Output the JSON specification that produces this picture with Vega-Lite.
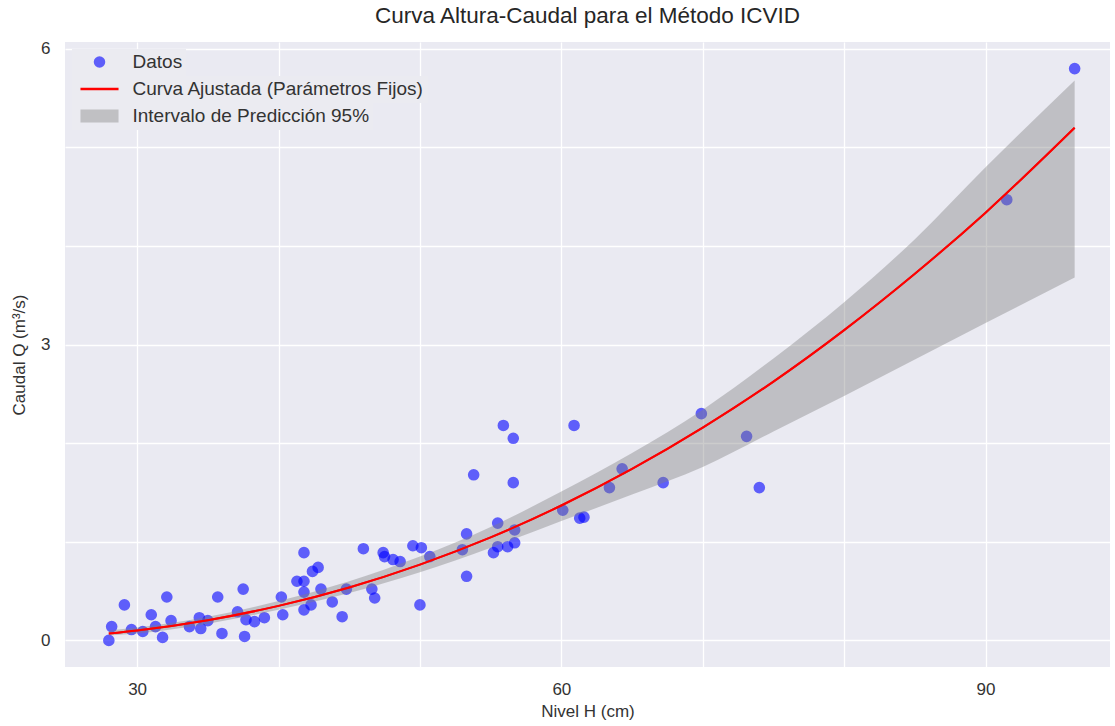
{
  "$schema": "https://vega.github.io/schema/vega-lite/v6.json",
  "width": 1045,
  "height": 625,
  "autosize": {"type": "none"},
  "padding": {"left": 65, "top": 42, "right": 5, "bottom": 59},
  "background": "white",
  "title": {
    "text": "Curva Altura-Caudal para el Método ICVID",
    "font": "Liberation Sans",
    "fontSize": 22.5,
    "fontWeight": "normal",
    "color": "#262626",
    "anchor": "middle",
    "offset": 12
  },
  "datasets": {
    "pts": [
      {"H": 28.0, "Q": 0.00}, {"H": 28.2, "Q": 0.14}, {"H": 29.1, "Q": 0.36}, {"H": 29.6, "Q": 0.11},
      {"H": 30.4, "Q": 0.09}, {"H": 31.0, "Q": 0.26}, {"H": 31.3, "Q": 0.14}, {"H": 31.8, "Q": 0.03},
      {"H": 32.1, "Q": 0.44}, {"H": 32.4, "Q": 0.20}, {"H": 33.7, "Q": 0.14}, {"H": 34.4, "Q": 0.23},
      {"H": 34.5, "Q": 0.12}, {"H": 35.0, "Q": 0.20}, {"H": 35.7, "Q": 0.44}, {"H": 36.0, "Q": 0.07},
      {"H": 37.1, "Q": 0.29}, {"H": 37.5, "Q": 0.52}, {"H": 37.6, "Q": 0.04}, {"H": 37.7, "Q": 0.21},
      {"H": 38.3, "Q": 0.19}, {"H": 39.0, "Q": 0.23}, {"H": 40.2, "Q": 0.44}, {"H": 40.3, "Q": 0.26},
      {"H": 41.3, "Q": 0.60}, {"H": 41.8, "Q": 0.89}, {"H": 41.8, "Q": 0.60}, {"H": 41.8, "Q": 0.31},
      {"H": 41.8, "Q": 0.49}, {"H": 42.3, "Q": 0.36}, {"H": 42.4, "Q": 0.70}, {"H": 42.8, "Q": 0.74},
      {"H": 43.0, "Q": 0.52}, {"H": 43.8, "Q": 0.39}, {"H": 44.5, "Q": 0.24}, {"H": 44.8, "Q": 0.52},
      {"H": 46.0, "Q": 0.93}, {"H": 46.6, "Q": 0.52}, {"H": 46.8, "Q": 0.43}, {"H": 47.4, "Q": 0.89},
      {"H": 47.5, "Q": 0.85}, {"H": 48.1, "Q": 0.82}, {"H": 48.6, "Q": 0.80}, {"H": 49.5, "Q": 0.96},
      {"H": 50.0, "Q": 0.36}, {"H": 50.1, "Q": 0.94}, {"H": 50.7, "Q": 0.85}, {"H": 53.0, "Q": 0.92},
      {"H": 53.3, "Q": 1.08}, {"H": 53.3, "Q": 0.65}, {"H": 53.8, "Q": 1.68}, {"H": 55.2, "Q": 0.89},
      {"H": 55.5, "Q": 1.19}, {"H": 55.5, "Q": 0.95}, {"H": 55.9, "Q": 2.18}, {"H": 56.2, "Q": 0.95},
      {"H": 56.6, "Q": 2.05}, {"H": 56.6, "Q": 1.60}, {"H": 56.7, "Q": 1.12}, {"H": 56.7, "Q": 0.99},
      {"H": 60.1, "Q": 1.32}, {"H": 60.9, "Q": 2.18}, {"H": 61.3, "Q": 1.24}, {"H": 61.6, "Q": 1.25},
      {"H": 63.4, "Q": 1.55}, {"H": 64.3, "Q": 1.74}, {"H": 67.2, "Q": 1.60}, {"H": 69.9, "Q": 2.30},
      {"H": 73.1, "Q": 2.07}, {"H": 74.0, "Q": 1.55}, {"H": 91.5, "Q": 4.47}, {"H": 96.3, "Q": 5.80}
    ],
    "curve": [
      {"H": 28, "Q": 0.070, "lo": 0.05, "hi": 0.10},
      {"H": 30, "Q": 0.101, "lo": 0.07, "hi": 0.13},
      {"H": 35, "Q": 0.205, "lo": 0.17, "hi": 0.24},
      {"H": 40, "Q": 0.350, "lo": 0.31, "hi": 0.40},
      {"H": 45, "Q": 0.537, "lo": 0.48, "hi": 0.60},
      {"H": 50, "Q": 0.769, "lo": 0.69, "hi": 0.85},
      {"H": 55, "Q": 1.045, "lo": 0.94, "hi": 1.15},
      {"H": 60, "Q": 1.368, "lo": 1.21, "hi": 1.51},
      {"H": 65, "Q": 1.739, "lo": 1.48, "hi": 1.90},
      {"H": 70, "Q": 2.158, "lo": 1.76, "hi": 2.34},
      {"H": 75, "Q": 2.625, "lo": 2.12, "hi": 2.86},
      {"H": 80, "Q": 3.147, "lo": 2.48, "hi": 3.43},
      {"H": 85, "Q": 3.719, "lo": 2.85, "hi": 4.07},
      {"H": 90, "Q": 4.339, "lo": 3.22, "hi": 4.80},
      {"H": 96.3, "Q": 5.200, "lo": 3.68, "hi": 5.68}
    ]
  },
  "config": {
    "view": {"fill": "#EAEAF2", "stroke": null},
    "font": "Liberation Sans",
    "axis": {
      "domain": false,
      "ticks": false,
      "tickSize": 0,
      "gridColor": "#FFFFFF",
      "gridWidth": 1.3,
      "labelFont": "Liberation Sans",
      "labelFontSize": 17,
      "labelColor": "#333333",
      "titleFont": "Liberation Sans",
      "titleFontSize": 17,
      "titleFontWeight": "normal",
      "titleColor": "#333333"
    },
    "legend": {
      "labelFont": "Liberation Sans",
      "labelFontSize": 19,
      "labelColor": "#333333",
      "labelLimit": 500,
      "orient": "top-left",
      "offset": 7,
      "padding": 3.5,
      "symbolSize": 133,
      "symbolOffset": 14.5,
      "labelOffset": 23.5,
      "fillColor": "#EBEBF1",
      "layout": {"top-left": {"direction": "vertical", "margin": 0, "anchor": "start"}}
    }
  },
  "layer": [
    {
      "data": {"name": "pts"},
      "mark": {"type": "point", "filled": true, "opacity": 0.6, "size": 135, "shape": "circle"},
      "encoding": {
        "x": {
          "field": "H", "type": "quantitative",
          "scale": {"domain": [24.9, 98.8], "nice": false, "zero": false},
          "axis": {
            "title": "Nivel H (cm)",
            "format": "d",
            "values": [30, 40, 50, 60, 70, 80, 90],
            "labelExpr": "datum.value % 30 === 0 ? datum.label : ''",
            "labelPadding": 14,
            "titlePadding": 6
          }
        },
        "y": {
          "field": "Q", "type": "quantitative",
          "scale": {"domain": [-0.27, 6.07], "nice": false, "zero": false},
          "axis": {
            "title": "Caudal Q (m³/s)",
            "format": "d",
            "values": [0, 1, 2, 3, 4, 5, 6],
            "labelExpr": "datum.value % 3 === 0 ? datum.label : ''",
            "labelPadding": 15,
            "titlePadding": 12
          }
        },
        "fill": {
          "datum": "Datos",
          "type": "nominal",
          "scale": {"domain": ["Datos"], "range": ["blue"]},
          "legend": {"title": null, "symbolType": "circle", "symbolStrokeWidth": 0}
        }
      }
    },
    {
      "data": {"name": "curve"},
      "mark": {"type": "line", "strokeWidth": 2, "interpolate": "monotone"},
      "encoding": {
        "x": {"field": "H", "type": "quantitative"},
        "y": {"field": "Q", "type": "quantitative"},
        "stroke": {
          "datum": "Curva Ajustada (Parámetros Fijos)",
          "type": "nominal",
          "scale": {"domain": ["Curva Ajustada (Parámetros Fijos)"], "range": ["red"]},
          "legend": {"title": null, "symbolType": "M-3.3,0H3.3", "symbolStrokeWidth": 2.5}
        }
      }
    },
    {
      "data": {"name": "curve"},
      "mark": {"type": "area", "opacity": 0.4, "interpolate": "monotone"},
      "encoding": {
        "x": {"field": "H", "type": "quantitative"},
        "y": {"field": "lo", "type": "quantitative"},
        "y2": {"field": "hi"},
        "color": {
          "datum": "Intervalo de Predicción 95%",
          "type": "nominal",
          "scale": {"domain": ["Intervalo de Predicción 95%"], "range": ["gray"]},
          "legend": {"title": null, "symbolType": "M-3.3,-1.13H3.3V1.13H-3.3Z", "symbolStrokeWidth": 0}
        }
      }
    },
    {
      "data": {"name": "curve"},
      "mark": {"type": "line", "strokeWidth": 2, "color": "red", "interpolate": "monotone"},
      "encoding": {
        "x": {"field": "H", "type": "quantitative"},
        "y": {"field": "Q", "type": "quantitative"}
      }
    }
  ]
}
